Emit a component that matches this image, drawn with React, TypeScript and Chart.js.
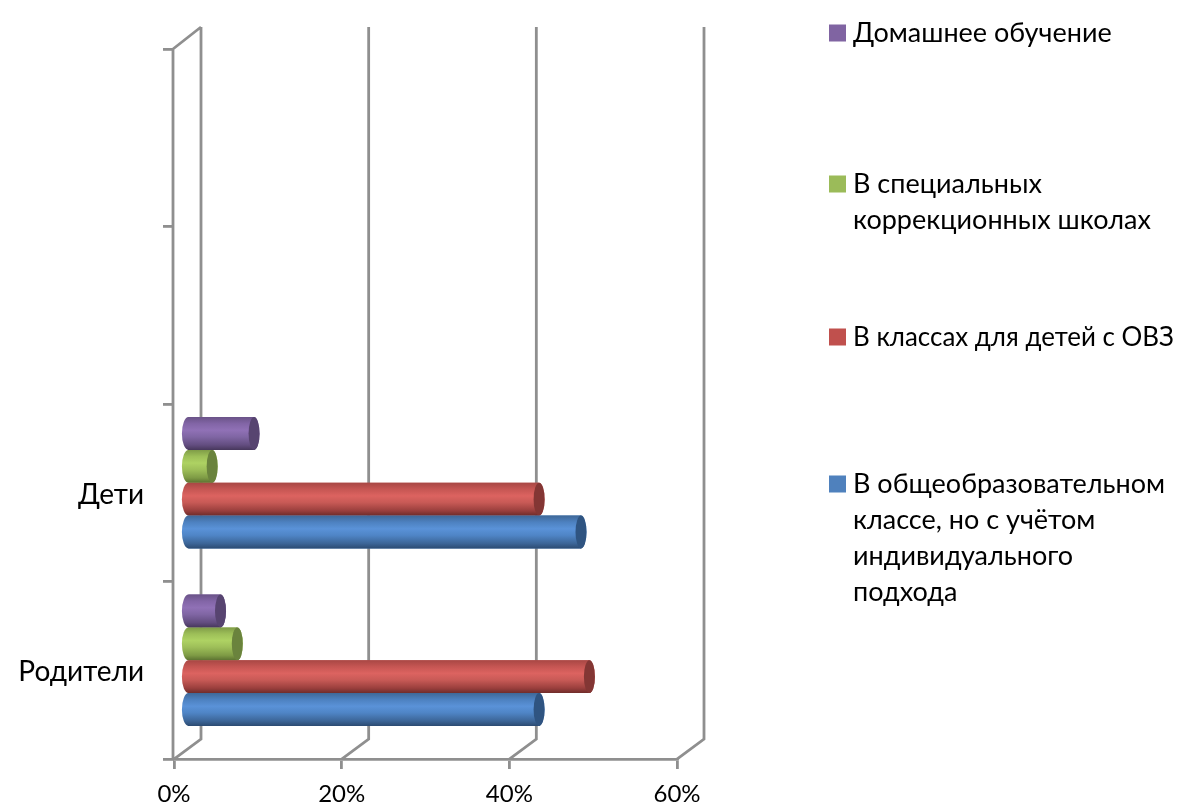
import React, { useEffect, useRef } from "react";
import { Chart, registerables } from "chart.js";

Chart.register(...registerables);

const categories = ["Родители", "Дети", "", ""];
const obshcheobr = [42, 47, null, null];
const ovz = [48, 42, null, null];
const korr = [6, 3, null, null];
const domashnee = [4, 8, null, null];
const xTicks = [0, 20, 40, 60];

const seriesNames = [
  "Домашнее обучение",
  "В специальных коррекционных школах",
  "В классах для детей с ОВЗ",
  "В общеобразовательном классе, но с учётом индивидуального подхода",
];
const legendLines = [
  ["Домашнее обучение"],
  ["В специальных", "коррекционных школах"],
  ["В классах для детей с ОВЗ"],
  ["В общеобразовательном", "классе, но с учётом", "индивидуального", "подхода"],
];
const legendColors = ["#8064a2", "#9bbb59", "#c0504d", "#4f81bd"];
const legendFirstLineY = [33, 184, 337, 484];

const FONT = "Lato, 'Noto Sans', sans-serif";
const GRAY = "#8f8f8f";
const DX = 27;
const DY = 21;
const BAR_DX = 13;
const BAR_DY = -10;

const palettes: Record<string, string[]> = {
  "#4f81bd": ["#3f6898", "#4d81c0", "#5a92d8", "#4f85c6", "#3c6597", "#2c4b72"],
  "#c0504d": ["#a84744", "#c65653", "#dc6360", "#c85a56", "#9a3f3d", "#6f2c2a"],
  "#9bbb59": ["#7f9c47", "#9dbf58", "#aed263", "#9ebf59", "#7e9b45", "#5c7231"],
  "#8064a2": ["#6a5388", "#8265a6", "#9071b6", "#8066a4", "#634d80", "#47375c"],
};
const capColors: Record<string, string> = {
  "#4f81bd": "#2f5481",
  "#c0504d": "#833634",
  "#9bbb59": "#6a833d",
  "#8064a2": "#574470",
};

const frame3d = {
  id: "frame3d",
  beforeDatasetsDraw(chart: any) {
    const { ctx, scales, chartArea } = chart;
    const x = scales.x;
    ctx.save();
    ctx.strokeStyle = GRAY;
    ctx.lineWidth = 2.8;
    const bottom = chartArea.bottom;
    const top = chartArea.top;
    ctx.beginPath();
    ctx.moveTo(x.left - 1, top);
    ctx.lineTo(x.left - 1, bottom);
    ctx.moveTo(x.left - 1, top);
    ctx.lineTo(x.left - 1 + DX + 1, top - DY - 1);
    xTicks.forEach((t) => {
      const px = x.getPixelForValue(t);
      ctx.moveTo(px, bottom);
      ctx.lineTo(px + DX, bottom - DY + 1);
      ctx.lineTo(px + DX, top - DY - 1);
    });
    ctx.stroke();
    ctx.restore();
    ctx.save();
    ctx.translate(BAR_DX, BAR_DY);
  },
  afterDatasetsDraw(chart: any) {
    const { ctx } = chart;
    chart.data.datasets.forEach((ds: any, i: number) => {
      const meta = chart.getDatasetMeta(i);
      const stops = palettes[ds.backgroundColor];
      meta.data.forEach((el: any, j: number) => {
        if (ds.data[j] == null) return;
        const h = el.height;
        const y0 = el.y - h / 2;
        const g = ctx.createLinearGradient(0, y0, 0, y0 + h);
        g.addColorStop(0, stops[0]);
        g.addColorStop(0.2, stops[1]);
        g.addColorStop(0.4, stops[2]);
        g.addColorStop(0.6, stops[3]);
        g.addColorStop(0.85, stops[4]);
        g.addColorStop(1, stops[5]);
        const rx = 5.5;
        ctx.fillStyle = g;
        ctx.beginPath();
        ctx.moveTo(el.x, y0);
        ctx.lineTo(el.base, y0);
        ctx.ellipse(el.base, el.y, rx + 1, h / 2, 0, -Math.PI / 2, -Math.PI * 1.5, true);
        ctx.lineTo(el.x, y0 + h);
        ctx.ellipse(el.x, el.y, rx, h / 2, 0, Math.PI / 2, -Math.PI / 2, true);
        ctx.closePath();
        ctx.fill();
        ctx.fillStyle = capColors[ds.backgroundColor];
        ctx.beginPath();
        ctx.ellipse(el.x, el.y, rx, h / 2, 0, 0, Math.PI * 2);
        ctx.fill();
      });
    });
    ctx.restore();
  },
  afterDraw(chart: any) {
    const { ctx } = chart;
    ctx.save();
    ctx.font = `27px ${FONT}`;
    ctx.textBaseline = "middle";
    ctx.textAlign = "left";
    legendLines.forEach((lines, i) => {
      ctx.fillStyle = legendColors[i];
      ctx.fillRect(829, legendFirstLineY[i] - 8.5, 17, 17);
      ctx.fillStyle = "#000";
      lines.forEach((line, k) => {
        ctx.fillText(line, 853, legendFirstLineY[i] + k * 36, 321);
      });
    });
    ctx.restore();
  },
};

export default function App() {
  const ref = useRef<HTMLCanvasElement>(null);
  useEffect(() => {
    document.body.style.margin = "0";
    const colors = ["#8064a2", "#9bbb59", "#c0504d", "#4f81bd"];
    const values = [domashnee, korr, ovz, obshcheobr];
    const chart = new Chart(ref.current!, {
      type: "bar",
      data: {
        labels: categories,
        datasets: values.map((data, i) => ({
          label: seriesNames[i],
          data,
          backgroundColor: colors[i],
          categoryPercentage: 0.74,
          barPercentage: 1,
          borderWidth: 0,
        })),
      },
      options: {
        indexAxis: "y",
        animation: false,
        responsive: false,
        layout: { padding: { top: 49, right: 504, left: 0, bottom: 0 } },
        plugins: { legend: { display: false }, title: { display: false }, tooltip: { enabled: false } },
        scales: {
          x: {
            type: "linear",
            min: 0,
            max: 60,
            afterFit: (s: any) => { s.height = 46; },
            afterBuildTicks: (s: any) => { s.ticks = xTicks.map((value) => ({ value })); },
            border: { display: true, color: GRAY, width: 2.8 },
            grid: { drawOnChartArea: false, color: GRAY, lineWidth: 2.8, tickLength: 10 },
            ticks: {
              callback: (v: any) => `${v}%`,
              color: "#000",
              font: { family: FONT, size: 24 },
              padding: 11,
              maxRotation: 0,
            },
          },
          y: {
            type: "category",
            reverse: true,
            afterFit: (s: any) => { s.width = 174; },
            border: { display: false },
            grid: { offset: true, drawOnChartArea: false, color: GRAY, lineWidth: 2.8, tickLength: 11 },
            ticks: {
              color: "#000",
              font: { family: FONT, size: 28 },
              padding: 19,
              labelOffset: 2,
              autoSkip: false,
            },
          },
        },
      },
      plugins: [frame3d],
    } as any);
    return () => chart.destroy();
  }, []);
  return <canvas ref={ref} width={1181} height={805} style={{ display: "block", width: 1181, height: 805 }} />;
}
